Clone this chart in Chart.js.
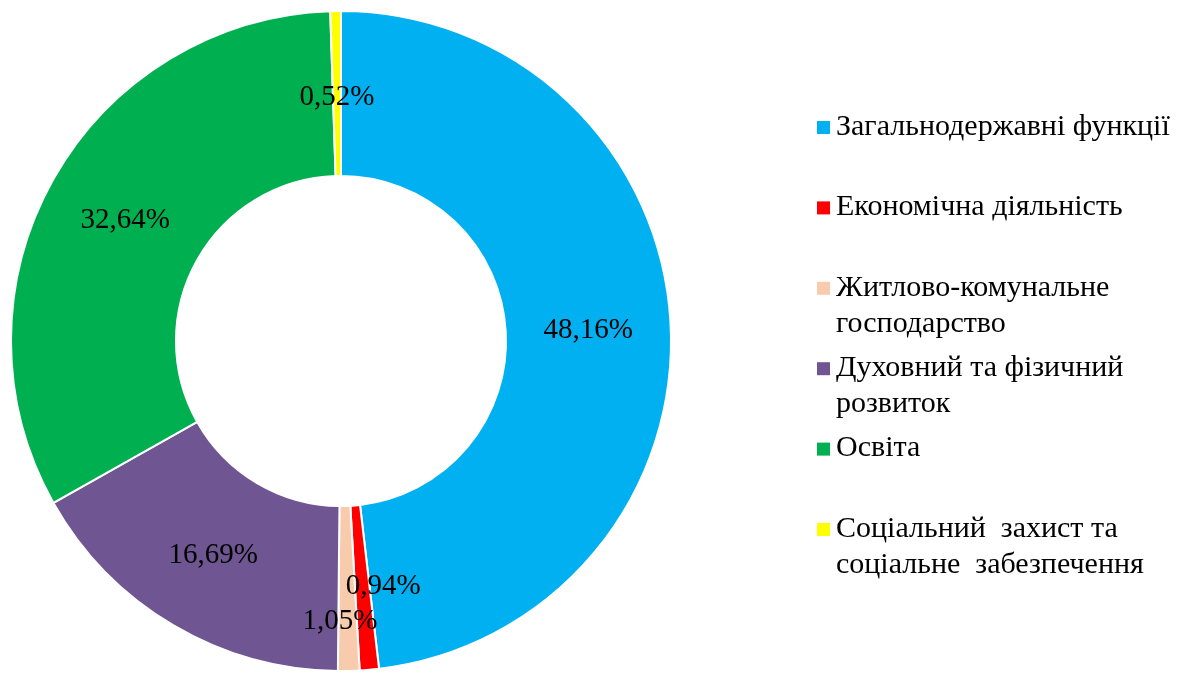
<!DOCTYPE html>
<html>
<head>
<meta charset="utf-8">
<script src="https://cdn.jsdelivr.net/npm/chart.js@4"></script>
<style>
  html, body { margin: 0; padding: 0; background: #fff; }
  #wrap { width: 1189px; height: 673px; position: relative; }
</style>
</head>
<body>
<div id="wrap"><canvas id="myChart" width="1189" height="673"></canvas></div>
<script>
// data
const categories = [
  'Загальнодержавні функції',
  'Економічна діяльність',
  'Житлово-комунальне господарство',
  'Духовний та фізичний розвиток',
  'Освіта',
  'Соціальний захист та соціальне забезпечення'
];
const shares = [48.16, 0.94, 1.05, 16.69, 32.64, 0.52];
const valueLabels = ['48,16%', '0,94%', '1,05%', '16,69%', '32,64%', '0,52%'];
// legend line breaks as in the original
const legendLines = [
  ['Загальнодержавні функції'],
  ['Економічна діяльність'],
  ['Житлово-комунальне', 'господарство'],
  ['Духовний та фізичний', 'розвиток'],
  ['Освіта'],
  ['Соціальний  захист та', 'соціальне  забезпечення']
];
const colors = ['#00B0F0', '#FF0000', '#F8CBAD', '#6F5591', '#00B050', '#FFFF00'];

// small nudges for labels that Excel pushed aside
const labelNudge = [[0, 4], [21, -1], [-7, 33], [-2, 1], [0, 1], [0, 4]];

const serif = '"Liberation Serif", "Times New Roman", serif';

// slice value labels
const sliceLabels = {
  id: 'sliceLabels',
  afterDatasetsDraw(chart) {
    const { ctx } = chart;
    const meta = chart.getDatasetMeta(0);
    ctx.save();
    ctx.font = `29px ${serif}`;
    ctx.fillStyle = '#000';
    ctx.textAlign = 'center';
    ctx.textBaseline = 'middle';
    meta.data.forEach((arc, i) => {
      const p = arc.tooltipPosition();
      ctx.fillText(valueLabels[i], p.x + labelNudge[i][0], p.y + labelNudge[i][1]);
    });
    ctx.restore();
  }
};

// legend on the right
const sideLegend = {
  id: 'sideLegend',
  afterDraw(chart) {
    const { ctx } = chart;
    ctx.save();
    ctx.font = `30px ${serif}`;
    ctx.textAlign = 'left';
    ctx.textBaseline = 'middle';
    legendLines.forEach((lines, i) => {
      const y0 = 127 + i * 80.4;
      ctx.fillStyle = colors[i];
      ctx.fillRect(817, y0 - 6, 13, 13);
      ctx.fillStyle = '#000';
      lines.forEach((t, j) => {
        ctx.fillText(t, 836, y0 + j * 36);
      });
    });
    ctx.restore();
  }
};

const config = {
  type: 'doughnut',
  data: {
    labels: categories,
    datasets: [{
      data: shares,
      backgroundColor: colors,
      borderColor: '#ffffff',
      borderWidth: 2
    }]
  },
  options: {
    responsive: false,
    animation: false,
    cutout: '50%',
    layout: { padding: { left: 10, right: 517, top: 10, bottom: 1 } },
    plugins: {
      legend: { display: false },
      tooltip: { enabled: false }
    }
  },
  plugins: [sliceLabels, sideLegend]
};

const myChart = new Chart(document.getElementById('myChart'), config);
</script>
</body>
</html>
